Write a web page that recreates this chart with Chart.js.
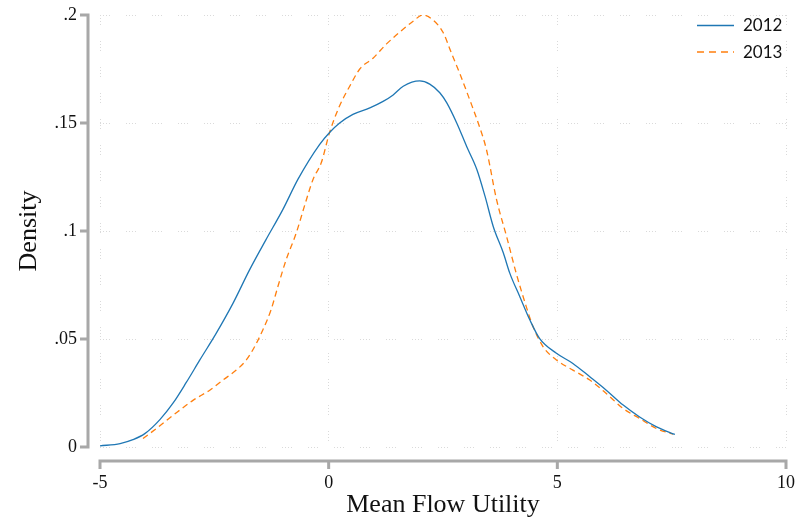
<!DOCTYPE html>
<html>
<head>
<meta charset="utf-8">
<script src="https://cdn.jsdelivr.net/npm/chart.js@4.4.1/dist/chart.umd.min.js"></script>
<style>
    html, body { margin: 0; padding: 0; background: #fff; }
    #wrap { width: 798px; height: 521px; }
</style>
</head>
<body>
<div id="wrap"><canvas id="chart" width="798" height="521"></canvas></div>
<script>
// Kernel density, mean flow utility
const x2012 = [-5.0, -4.56, -4.28, -4.02, -3.69, -3.40, -3.11, -2.82, -2.46, -2.09, -1.73, -1.37, -1.0, -0.67, -0.20, 0.02, 0.24, 0.53, 0.90, 1.19, 1.41, 1.63, 1.99, 2.21, 2.43, 2.58, 2.80, 3.02, 3.24, 3.42, 3.60, 3.82, 3.96, 4.18, 4.40, 4.61, 4.98, 5.34, 5.71, 6.07, 6.44, 6.80, 7.17, 7.57];
const y2012 = [0.0005, 0.0016, 0.0034, 0.0062, 0.0127, 0.0204, 0.030, 0.0402, 0.0526, 0.0666, 0.082, 0.096, 0.110, 0.124, 0.140, 0.1456, 0.150, 0.154, 0.157, 0.160, 0.163, 0.167, 0.1695, 0.168, 0.164, 0.1594, 0.150, 0.139, 0.1285, 0.116, 0.102, 0.0898, 0.0805, 0.0696, 0.0588, 0.0503, 0.0434, 0.0387, 0.0325, 0.0263, 0.0194, 0.0139, 0.0093, 0.0058];

const x2013 = [-4.06, -3.77, -3.40, -2.96, -2.60, -2.31, -2.02, -1.80, -1.62, -1.44, -1.26, -1.11, -0.93, -0.71, -0.53, -0.34, -0.16, 0.02, 0.24, 0.46, 0.68, 0.97, 1.26, 1.55, 1.84, 2.06, 2.28, 2.50, 2.68, 2.86, 3.08, 3.27, 3.45, 3.67, 3.89, 4.10, 4.32, 4.47, 4.69, 4.98, 5.34, 5.71, 6.07, 6.44, 6.80, 7.17, 7.53];
const y2013 = [0.0039, 0.0085, 0.0147, 0.0217, 0.0263, 0.031, 0.0356, 0.0403, 0.0464, 0.0542, 0.0635, 0.0743, 0.0867, 0.099, 0.1115, 0.124, 0.1317, 0.1456, 0.158, 0.167, 0.175, 0.180, 0.1865, 0.192, 0.197, 0.200, 0.1977, 0.192, 0.1826, 0.1733, 0.161, 0.150, 0.1377, 0.1146, 0.0975, 0.0805, 0.065, 0.0557, 0.0464, 0.0403, 0.0356, 0.031, 0.0248, 0.0178, 0.0132, 0.0085, 0.0059];

const seriesNames = ['2012', '2013'];
const yTicks = [0, 0.05, 0.1, 0.15, 0.2];
const yTickLabels = ['0', '.05', '.1', '.15', '.2'];
const xTicks = [-5, 0, 5, 10];
const xTickLabels = ['-5', '0', '5', '10'];

const BLUE = '#1f77b4';
const ORANGE = '#ff7f0e';
const AXIS = '#a8a8a8';
const SERIF = '"Liberation Serif", "Times New Roman", serif';

const toPoints = (xs, ys) => xs.map((x, i) => ({ x: x, y: ys[i] }));

// Stata-like axes (offset from plot region), tick labels, titles and legend
const decor = {
    id: 'decor',
    afterDraw(chart) {
        const { ctx, chartArea: a, scales } = chart;
        const xs = scales.x, ys = scales.y;
        ctx.save();

        // axis lines + ticks
        ctx.strokeStyle = AXIS;
        ctx.lineWidth = 3;
        ctx.lineCap = 'butt';
        const axX = a.left - 12;
        const axY = a.bottom + 14;
        ctx.beginPath();
        ctx.moveTo(axX, a.top - 1.5);
        ctx.lineTo(axX, a.bottom + 1.5);
        yTicks.forEach(v => {
            const p = ys.getPixelForValue(v);
            ctx.moveTo(axX, p);
            ctx.lineTo(axX - 8, p);
        });
        ctx.moveTo(a.left - 1.5, axY);
        ctx.lineTo(a.right + 1.5, axY);
        xTicks.forEach(v => {
            const p = xs.getPixelForValue(v);
            ctx.moveTo(p, axY);
            ctx.lineTo(p, axY + 8);
        });
        ctx.stroke();

        // tick labels
        ctx.fillStyle = '#111';
        ctx.font = '18px ' + SERIF;
        ctx.textBaseline = 'middle';
        ctx.textAlign = 'right';
        yTicks.forEach((v, i) => ctx.fillText(yTickLabels[i], axX - 11, ys.getPixelForValue(v)));
        ctx.textAlign = 'center';
        xTicks.forEach((v, i) => ctx.fillText(xTickLabels[i], xs.getPixelForValue(v), 483));

        // axis titles
        ctx.font = '26px ' + SERIF;
        ctx.textAlign = 'center';
        ctx.textBaseline = 'alphabetic';
        ctx.fillText('Mean Flow Utility', (a.left + a.right) / 2, 512);
        ctx.save();
        ctx.translate(29, (a.top + a.bottom) / 2);
        ctx.rotate(-Math.PI / 2);
        ctx.textBaseline = 'middle';
        ctx.fillText('Density', 0, 0);
        ctx.restore();

        // legend
        const items = [
            { label: seriesNames[0], color: BLUE, dash: [], y: 25.5 },
            { label: seriesNames[1], color: ORANGE, dash: [7, 5], y: 52 }
        ];
        ctx.font = '17px Lato, "Open Sans", sans-serif';
        ctx.textAlign = 'left';
        ctx.textBaseline = 'middle';
        items.forEach(it => {
            ctx.strokeStyle = it.color;
            ctx.lineWidth = 1.3;
            ctx.setLineDash(it.dash);
            ctx.beginPath();
            ctx.moveTo(697, it.y);
            ctx.lineTo(734, it.y);
            ctx.stroke();
            ctx.setLineDash([]);
            ctx.fillStyle = '#111';
            ctx.fillText(it.label, 743, it.y + 0.5);
        });
        ctx.restore();
    }
};

const gridDash = [1, 2, 1, 2, 1, 2, 1, 16];

new Chart(document.getElementById('chart'), {
    type: 'scatter',
    data: {
        datasets: [
            {
                label: seriesNames[0],
                data: toPoints(x2012, y2012),
                showLine: true,
                borderColor: BLUE,
                borderWidth: 1.3,
                pointRadius: 0,
                cubicInterpolationMode: 'monotone'
            },
            {
                label: seriesNames[1],
                data: toPoints(x2013, y2013),
                showLine: true,
                borderColor: ORANGE,
                borderWidth: 1.3,
                borderDash: [6, 4],
                pointRadius: 0,
                cubicInterpolationMode: 'monotone'
            }
        ]
    },
    options: {
        responsive: false,
        animation: false,
        layout: { padding: { top: 15, right: 12, left: 0, bottom: 0 } },
        plugins: {
            legend: { display: false },
            tooltip: { enabled: false }
        },
        scales: {
            x: {
                type: 'linear',
                min: -5, max: 10,
                afterFit: s => { s.height = 74; s.paddingLeft = 0; s.paddingRight = 0; },
                afterBuildTicks: s => { s.ticks = xTicks.map(v => ({ value: v })); },
                grid: { color: '#dadada', lineWidth: 1, drawTicks: false },
                border: { display: false, dash: gridDash },
                ticks: { display: false }
            },
            y: {
                min: 0, max: 0.2,
                afterFit: s => { s.width = 100; s.paddingTop = 0; s.paddingBottom = 0; },
                afterBuildTicks: s => { s.ticks = yTicks.map(v => ({ value: v })); },
                grid: { color: '#dadada', lineWidth: 1, drawTicks: false },
                border: { display: false, dash: gridDash },
                ticks: { display: false }
            }
        }
    },
    plugins: [decor]
});
</script>
</body>
</html>
